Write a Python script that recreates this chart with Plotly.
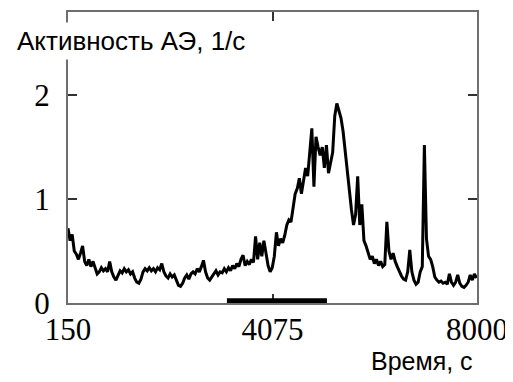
import numpy as np
import plotly.graph_objects as go

# --- data ---
activity = [
    0.72, 0.60, 0.66, 0.50, 0.47, 0.42, 0.48, 0.55, 0.40, 0.36,
    0.42, 0.35, 0.40, 0.33, 0.28, 0.30, 0.34, 0.31, 0.33, 0.30,
    0.40, 0.30, 0.25, 0.22, 0.26, 0.31, 0.29, 0.33, 0.30, 0.32,
    0.28, 0.30, 0.24, 0.20, 0.19, 0.23, 0.30, 0.33, 0.31, 0.34,
    0.31, 0.33, 0.30, 0.34, 0.32, 0.38, 0.30, 0.26, 0.24, 0.28,
    0.25, 0.27, 0.22, 0.17, 0.16, 0.19, 0.24, 0.27, 0.23, 0.28,
    0.30, 0.28, 0.33, 0.30, 0.35, 0.41, 0.30, 0.24, 0.22, 0.25,
    0.28, 0.31, 0.27, 0.30, 0.29, 0.33, 0.30, 0.34, 0.31, 0.36,
    0.33, 0.38, 0.35, 0.42, 0.46, 0.36, 0.40, 0.37, 0.42, 0.39,
    0.64, 0.42, 0.58, 0.45, 0.60, 0.48, 0.36, 0.30, 0.34, 0.45,
    0.68, 0.55, 0.62, 0.58, 0.65, 0.75, 0.80, 0.78, 0.90, 1.05,
    1.10, 1.20, 1.05, 1.18, 1.30, 1.22, 1.45, 1.68, 1.12, 1.60,
    1.50, 1.42, 1.50, 1.30, 1.52, 1.25, 1.35, 1.45, 1.80, 1.92,
    1.85, 1.78, 1.65, 1.45, 1.25, 1.05, 0.90, 0.75, 0.85, 1.22,
    0.75, 0.95, 0.60, 0.55, 0.48, 0.42, 0.45, 0.38, 0.42, 0.36,
    0.40, 0.35, 0.37, 0.78, 0.50, 0.42, 0.48, 0.40, 0.35, 0.30,
    0.26, 0.23, 0.22, 0.30, 0.51, 0.30, 0.22, 0.18, 0.20, 0.30,
    0.35, 1.52, 0.62, 0.45, 0.42, 0.35, 0.25, 0.22, 0.20, 0.21,
    0.19, 0.20, 0.18, 0.28, 0.20, 0.17, 0.20, 0.27, 0.19, 0.16,
    0.15, 0.17, 0.20, 0.27, 0.22, 0.28, 0.24,
]
t_start, t_step = 150, 40
time_s = t_start + t_step * np.arange(len(activity))

x_ticks = [150, 4075, 8000]
y_ticks = [0, 1, 2]
x_range = [150, 8000]
y_range = [0, 2.8]
work_interval = [3200, 5120]   # thick bar on the time axis

y_title = "Активность АЭ, 1/с"
x_title = "Время, с"

fig = go.Figure()
fig.add_trace(go.Scatter(
    x=time_s, y=activity, mode="lines",
    line=dict(color="black", width=3),
    showlegend=False,
))

fig.add_shape(type="rect", xref="x", yref="y",
              x0=work_interval[0], x1=work_interval[1],
              y0=-0.005, y1=0.045,
              fillcolor="black", line=dict(width=0), layer="above")

tickfont = dict(family="Liberation Serif, Times New Roman, serif", size=31, color="black")
axis_common = dict(
    showgrid=False, zeroline=False, showline=True, mirror="ticks",
    linecolor="#6e6e6e", linewidth=2,
    ticks="inside", ticklen=9, tickwidth=1.5, tickcolor="#333333",
    tickfont=tickfont,
)

# figure sits 8 px in from the page corner (default body margin)
W, H = 505, 374
L, R, T, B = 60, 36, 4, 79
PW, PH = W - L - R, H - T - B

fig.update_layout(
    width=W, height=H,
    margin=dict(l=L, r=R, t=T, b=B, autoexpand=False),
    paper_bgcolor="white", plot_bgcolor="white",
    xaxis=dict(range=x_range, tickvals=x_ticks, ticklabelstandoff=-2,
               ticktext=[str(v) for v in x_ticks], **axis_common),
    yaxis=dict(range=y_range, tickvals=y_ticks, ticklabelstandoff=10,
               ticktext=[str(v) for v in y_ticks], **axis_common),
)

sans = "Liberation Sans Narrow, Arial Narrow, Liberation Sans, Arial"
fig.add_annotation(
    text=y_title, xref="paper", yref="paper",
    x=(5 - L) / PW, y=1 - 10 / PH, xanchor="left", yanchor="top",
    showarrow=False, bgcolor="white", borderpad=3,
    font=dict(family=sans, size=26, color="black"),
)
fig.add_annotation(
    text=x_title, xref="paper", yref="paper",
    x=(467 - L) / PW, y=-42 / PH, xanchor="right", yanchor="top",
    showarrow=False,
    font=dict(family=sans, size=25, color="black"),
)

fig.write_html("out.html")
